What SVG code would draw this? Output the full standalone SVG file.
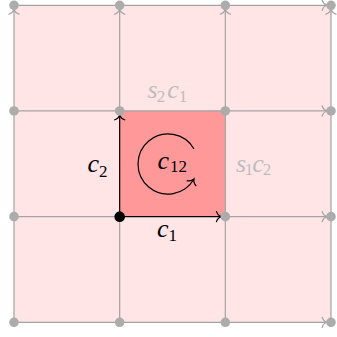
<svg xmlns="http://www.w3.org/2000/svg" width="337" height="337" viewBox="0 0 337 337">
<style>
.g{stroke:#a3a3a3;stroke-width:1.2;fill:none}
.k{stroke:#000;stroke-width:1.2;fill:none}
.dot{fill:#acacac}
.gt{fill:#bdbdbd}
.lbl{font-family:"Liberation Serif","DejaVu Serif",serif;font-style:italic;font-size:26px}
.s{font-style:normal;font-size:17px}
</style>
<defs>
<marker id="ag" viewBox="-7 -7 10 14" refX="0" refY="0" markerWidth="10" markerHeight="14" orient="auto" markerUnits="userSpaceOnUse" overflow="visible"><path d="M-5,-5.5 C-4,-2 -1.5,-0.5 0,0 C-1.5,0.5 -4,2 -5,5.5" fill="none" stroke="#a3a3a3" stroke-width="1.2"/></marker>
<marker id="ak" viewBox="-7 -7 10 14" refX="0" refY="0" markerWidth="10" markerHeight="14" orient="auto" markerUnits="userSpaceOnUse" overflow="visible"><path d="M-5,-5.5 C-4,-2 -1.5,-0.5 0,0 C-1.5,0.5 -4,2 -5,5.5" fill="none" stroke="#000" stroke-width="1.2"/></marker>
</defs>
<g id="cells">
<rect x="14" y="5.3" width="317" height="317" fill="#ffe5e5"/>
<rect x="119.67" y="110.97" width="105.66" height="105.66" fill="#ff9999"/>
</g>
<g id="connectors">
<g class="g" marker-end="url(#ag)">
<path d="M14,5.3H115.67M119.67,5.3H221.33M225.33,5.3H327"/>
<path d="M14,110.97H115.67M119.67,110.97H221.33M225.33,110.97H327"/>
<path d="M14,216.63H115.67M225.33,216.63H327"/>
<path d="M14,322.3H115.67M119.67,322.3H221.33M225.33,322.3H327"/>
<path d="M14,322.3V220.63M14,216.63V114.97M14,110.97V9.3"/>
<path d="M119.67,322.3V220.63M119.67,110.97V9.3"/>
<path d="M225.33,322.3V220.63M225.33,216.63V114.97M225.33,110.97V9.3"/>
<path d="M331,322.3V220.63M331,216.63V114.97M331,110.97V9.3"/>
</g>
<g class="k" marker-end="url(#ak)">
<path id="c1" d="M119.67,216.63H221.33"/>
<path id="c2" d="M119.67,216.63V114.97"/>
<path id="rot" d="M194,149 A30,30 0 1 0 194,179"/>
</g>
</g>
<g id="nodes">
<g id="n00"><circle class="dot" cx="14" cy="5.3" r="4.8"/></g>
<g id="n10"><circle class="dot" cx="119.67" cy="5.3" r="4.8"/></g>
<g id="n20"><circle class="dot" cx="225.33" cy="5.3" r="4.8"/></g>
<g id="n30"><circle class="dot" cx="331" cy="5.3" r="4.8"/></g>
<g id="n01"><circle class="dot" cx="14" cy="110.97" r="4.8"/></g>
<g id="n11"><circle class="dot" cx="119.67" cy="110.97" r="4.8"/></g>
<g id="n21"><circle class="dot" cx="225.33" cy="110.97" r="4.8"/></g>
<g id="n31"><circle class="dot" cx="331" cy="110.97" r="4.8"/></g>
<g id="n02"><circle class="dot" cx="14" cy="216.63" r="4.8"/></g>
<g id="n12"><circle cx="119.67" cy="216.63" r="5.3" fill="#000"/></g>
<g id="n22"><circle class="dot" cx="225.33" cy="216.63" r="4.8"/></g>
<g id="n32"><circle class="dot" cx="331" cy="216.63" r="4.8"/></g>
<g id="n03"><circle class="dot" cx="14" cy="322.3" r="4.8"/></g>
<g id="n13"><circle class="dot" cx="119.67" cy="322.3" r="4.8"/></g>
<g id="n23"><circle class="dot" cx="225.33" cy="322.3" r="4.8"/></g>
<g id="n33"><circle class="dot" cx="331" cy="322.3" r="4.8"/></g>
</g>
<g id="labels">
<text class="lbl" x="157" y="236.7">c<tspan class="s" dy="4">1</tspan></text>
<text class="lbl" x="87.5" y="171.7">c<tspan class="s" dy="5.5">2</tspan></text>
<text class="lbl" x="157.5" y="168.5">c<tspan class="s" dy="3.5" dx="1">12</tspan></text>
<text class="lbl gt" x="147.5" y="98.3">s<tspan class="s" dx="-1" dy="3.5">2</tspan><tspan dx="2" dy="-3.5">c</tspan><tspan class="s" dy="3.5">1</tspan></text>
<text class="lbl gt" x="236" y="171.7">s<tspan class="s" dx="-1.5" dy="3.5">1</tspan><tspan dx="-1" dy="-3.5">c</tspan><tspan class="s" dx="-1" dy="3.5">2</tspan></text>
</g>
</svg>
